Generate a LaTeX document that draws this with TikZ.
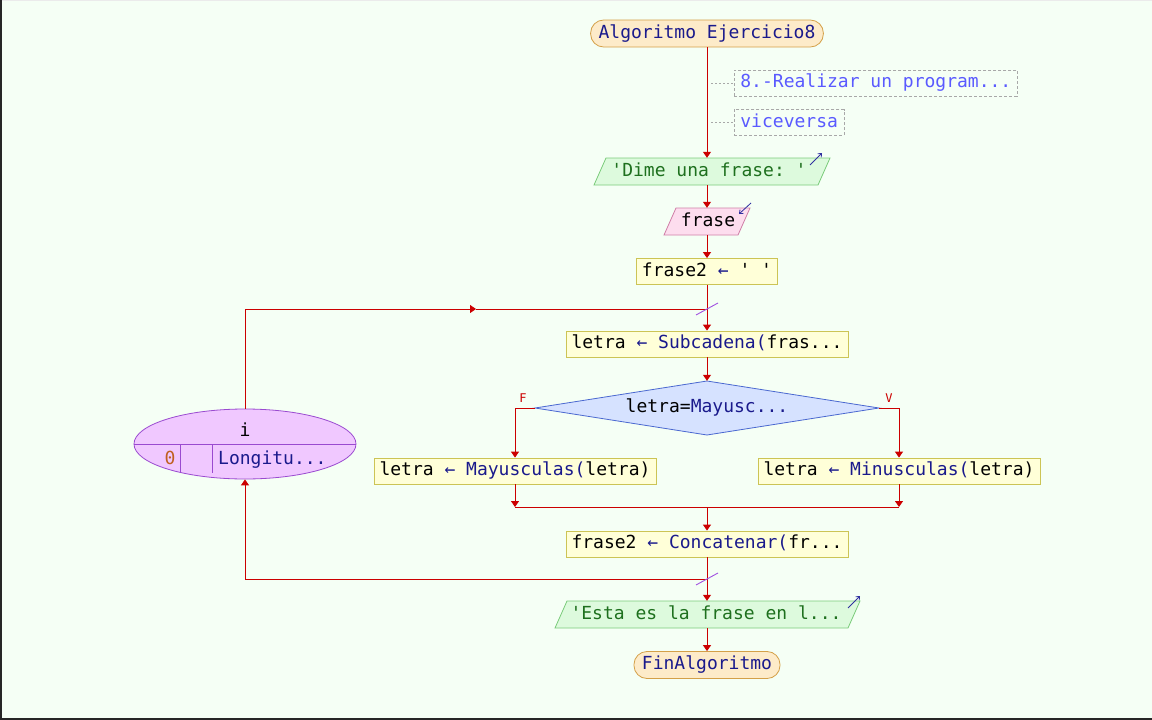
\documentclass[tikz,border=0pt]{standalone}
\usepackage{fontspec}
\setmonofont{DejaVu Sans Mono}
\usetikzlibrary{arrows.meta,shapes.geometric}
\definecolor{bgc}{HTML}{F5FFF5}
\definecolor{redl}{HTML}{CC0000}
\definecolor{navy}{HTML}{1A1A8C}
\definecolor{termfill}{HTML}{FDEBC9}
\definecolor{termline}{HTML}{D4A048}
\definecolor{cmtblue}{HTML}{5A5AFF}
\definecolor{cmtline}{HTML}{A8A8A8}
\definecolor{outfill}{HTML}{DDFADD}
\definecolor{outline}{HTML}{7CCC7C}
\definecolor{outtext}{HTML}{1E701E}
\definecolor{infill}{HTML}{FDDDEE}
\definecolor{inline}{HTML}{D080A8}
\definecolor{asfill}{HTML}{FFFFD8}
\definecolor{asline}{HTML}{CCC455}
\definecolor{dfill}{HTML}{D6E2FF}
\definecolor{dline}{HTML}{4A68D0}
\definecolor{efill}{HTML}{F0C8FF}
\definecolor{eline}{HTML}{9A4AD0}
\definecolor{slashc}{HTML}{A050E0}
\definecolor{numc}{HTML}{C06020}
\definecolor{iconc}{HTML}{3030A0}
\begin{document}
\begin{tikzpicture}[x=1pt,y=-1pt,font=\ttfamily\fontsize{18}{20}\selectfont,
  flow/.style={draw=redl,line width=1pt},
  arr/.style={flow,-{Triangle[width=8pt,length=6pt]}},
  txt/.style={inner sep=0pt,text height=13pt,text depth=4pt,align=center},
  term/.style={txt,draw=termline,fill=termfill,rounded corners=13pt,minimum height=27pt,inner xsep=8pt,line width=0.8pt,text=navy},
  assign/.style={txt,draw=asline,fill=asfill,minimum height=26pt,inner xsep=5.5pt,line width=0.8pt},
  cmt/.style={txt,draw=cmtline,dash pattern=on 3pt off 2pt,text=cmtblue,minimum height=26pt,inner xsep=6pt,line width=0.8pt},
  shapebody/.style={txt,minimum height=27pt},
  outpoly/.style={draw=outline,fill=outfill,line width=0.8pt},
  inpoly/.style={draw=inline,fill=infill,line width=0.8pt},
  icon/.style={draw=iconc,line width=0.8pt,-{Straight Barb[length=3pt,width=5pt]}},
  slash/.style={draw=slashc,line width=0.9pt},
  lab/.style={inner sep=0pt,text=redl,font=\ttfamily\fontsize{12}{14}\selectfont},
  dots/.style={draw=cmtline,dash pattern=on 2pt off 2pt,line width=0.8pt}]
% background
\fill[bgc] (0,0) rectangle (1152,720);
\fill[black!85] (0,0) rectangle (2,720);
\fill[black!85] (0,718) rectangle (1152,720);
\fill[black!8] (2,0) rectangle (1152,1);

% start
\node[term] (start) at (707,33.5) {Algoritmo Ejercicio8};
% comments
\node[cmt,anchor=west] (c1) at (734,83) {8.-Realizar un program...};
\node[cmt,anchor=west] (c2) at (734,122.5) {viceversa};
\coordinate (d1) at (711,83);
\coordinate (d2) at (711,122.5);
\draw[dots] (d1) -- (c1.west);
\draw[dots] (d2) -- (c2.west);

% output 1
\filldraw[outpoly] (594,185) -- (606,158) -- (830,158) -- (818,185) -- cycle;
\node[shapebody,minimum width=200pt,text=outtext] (out1) at (709,171.5) {'Dime una frase: '};
\draw[icon] (810,165) -- (822,153);

% input
\filldraw[inpoly] (664,235) -- (676,208) -- (750,208) -- (738,235) -- cycle;
\node[shapebody,minimum width=60pt] (in1) at (708,221.5) {frase};
\draw[icon] (751,203) -- (739,214);

% frase2
\node[assign] (a1) at (707,271.5) {frase2 \textcolor{navy}{←} ' '};
\coordinate (j1) at (707,309);
\node[assign] (a2) at (707,344) {letra \textcolor{navy}{← Subcadena(}fras...};

% decision
\filldraw[draw=dline,fill=dfill,line width=0.8pt] (535,408) -- (707,381) -- (879,408) -- (707,435) -- cycle;
\node[txt,minimum width=344pt,minimum height=54pt] (cond) at (707,408) {letra=\textcolor{navy}{Mayusc...}};
\node[lab] (lf) at (523,398) {F};
\node[lab] (lv) at (889,398) {V};

\node[assign] (aF) at (515,471) {letra \textcolor{navy}{←} \textcolor{navy}{Mayusculas(}letra)};
\node[assign] (aV) at (899,471) {letra \textcolor{navy}{←} \textcolor{navy}{Minusculas(}letra)};
\coordinate (mF) at (515,507);
\coordinate (mV) at (899,507);
\coordinate (m) at (707,507);

\node[assign] (a3) at (707,544) {frase2 \textcolor{navy}{← Concatenar(}fr...};
\coordinate (j2) at (707,579);

% output 2
\filldraw[outpoly] (555,628) -- (567,601) -- (860,601) -- (848,628) -- cycle;
\node[shapebody,minimum width=260pt,text=outtext] (out2) at (706,614.5) {'Esta es la frase en l...};
\draw[icon] (848,608) -- (860,596);

\node[term] (fin) at (707,665) {FinAlgoritmo};

% loop ellipse
\node[ellipse,draw=eline,fill=efill,line width=0.8pt,minimum width=222pt,minimum height=70pt,inner sep=0pt] (loop) at (245,444) {};
\draw[draw=eline,line width=0.8pt] (loop.west) -- (loop.east);
\draw[draw=eline,line width=0.8pt] (180,444) -- (180,473);
\draw[draw=eline,line width=0.8pt] (212,444) -- (212,473);
\node[txt] (lv1) at (245,432) {i};
\node[txt,text=numc] (lv2) at (170,460) {0};
\node[txt,text=navy,anchor=west] (lv3) at (218,460) {Longitu...};

% connectors
\draw[arr] (start.south) -- (start.south |- out1.north);
\draw[arr] (out1.south -| start.south) -- (start.south |- in1.north);
\draw[arr] (in1.south -| start.south) -- (a1.north);
\draw[flow] (a1.south) -- (j1);
\draw[arr] (j1) -- (a2.north);
\draw[arr] (a2.south) -- (cond.north);
\draw[arr] (cond.west) -| (aF.north);
\draw[arr] (cond.east) -| (aV.north);
\draw[arr] (aF.south) -- (mF);
\draw[arr] (aV.south) -- (mV);
\draw[flow] (mF) -- (mV);
\draw[arr] (m) -- (a3.north);
\draw[flow] (a3.south) -- (j2);
\draw[arr] (j2) -- (j2 |- out2.north);
\draw[arr] (out2.south -| fin.north) -- (fin.north);
\draw[arr] (j2) -| (loop.south);
\coordinate (la) at (476,309);
\draw[arr] (loop.north) |- (la);
\draw[flow] (la) -- (j1);
\draw[slash] ([shift={(-11,6)}]j1) -- ([shift={(11,-6)}]j1);
\draw[slash] ([shift={(-11,6)}]j2) -- ([shift={(11,-6)}]j2);
\end{tikzpicture}
\end{document}
